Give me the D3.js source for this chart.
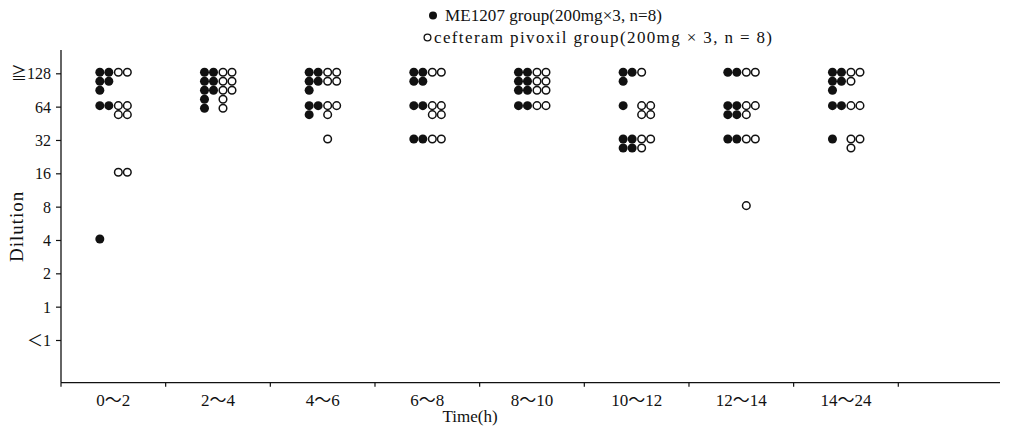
<!DOCTYPE html>
<html>
<head>
<meta charset="utf-8">
<script src="https://cdn.jsdelivr.net/npm/d3@7"></script>
<style>
  html, body { margin: 0; padding: 0; background: #fff; }
  svg { display: block; }
  text { font-family: "Liberation Serif", "Noto Sans CJK JP", serif; fill: #111; }
</style>
</head>
<body>
<svg id="chart" width="1011" height="431"></svg>
<script>
// Sampling periods (h)
const periods = ["0～2", "2～4", "4～6", "6～8", "8～10", "10～12", "12～14", "14～24"];

// Dilution tick labels, lowest to highest
const dilutionLabels = ["＜1", "1", "2", "4", "8", "16", "32", "64", "≧128"];

// Serum bactericidal dilution per subject (n = 8), one list per period
const me1207 = [
  [128, 128, 128, 128, 128, 64, 64, 4],
  [128, 128, 128, 128, 128, 128, 128, 128],
  [128, 128, 128, 128, 128, 64, 64, 64],
  [128, 128, 128, 128, 64, 64, 32, 32],
  [128, 128, 128, 128, 128, 128, 64, 64],
  [128, 128, 128, 64, 32, 32, 32, 32],
  [128, 128, 64, 64, 64, 64, 32, 32],
  [128, 128, 128, 128, 128, 64, 64, 32]
];

const cefteram = [
  [128, 128, 64, 64, 64, 64, 16, 16],
  [128, 128, 128, 128, 128, 128, 128, 128],
  [128, 128, 128, 128, 64, 64, 64, 32],
  [128, 128, 64, 64, 64, 64, 32, 32],
  [128, 128, 128, 128, 128, 128, 64, 64],
  [128, 64, 64, 64, 64, 32, 32, 32],
  [128, 128, 64, 64, 64, 32, 32, 8],
  [128, 128, 128, 64, 64, 32, 32, 32]
];

const legendLabels = [
  "ME1207 group(200mg×3, n=8)",
  "cefteram pivoxil group(200mg × 3, n = 8)"
];
const xTitle = "Time(h)";
const yTitle = "Dilution";

const svg = d3.select("#chart");
const ink = "#111";

const x = d3.scaleBand().domain(periods).range([61, 898.3]).paddingInner(0).paddingOuter(0);
const y = d3.scalePoint().domain(dilutionLabels).range([340, 73.3]);
const labelOf = v => (v >= 128 ? "≧128" : v < 1 ? "＜1" : String(v));

const axisY0 = 382.7, axisTop = 50, axisRight = 1000;

// Axis lines
svg.append("line")
  .attr("x1", x.range()[0]).attr("x2", axisRight)
  .attr("y1", axisY0).attr("y2", axisY0)
  .attr("stroke", ink).attr("stroke-width", 1.3);
svg.append("line")
  .attr("x1", x.range()[0]).attr("x2", x.range()[0])
  .attr("y1", axisTop).attr("y2", axisY0)
  .attr("stroke", ink).attr("stroke-width", 1.3);

// X axis: ticks at period boundaries, labels centred in each period
const boundaries = periods.map(p => x(p)).concat([x(periods[periods.length - 1]) + x.bandwidth()]);
svg.append("g").selectAll("line").data(boundaries).join("line")
  .attr("x1", d => d).attr("x2", d => d)
  .attr("y1", axisY0).attr("y2", axisY0 + 4)
  .attr("stroke", ink).attr("stroke-width", 1.2);

const xAxis = d3.axisBottom(x).tickSize(0).tickPadding(0);
const gx = svg.append("g").attr("transform", `translate(0,${axisY0})`).call(xAxis);
gx.select(".domain").remove();
gx.selectAll("text")
  .attr("y", 23).attr("dy", 0)
  .style("font-family", "'Liberation Serif', 'Noto Sans CJK JP', serif")
  .style("font-size", "17px").attr("fill", ink);

svg.append("text")
  .attr("x", 470).attr("y", 422)
  .attr("text-anchor", "middle")
  .style("font-size", "17px")
  .text(xTitle);

// Y axis
const yAxis = d3.axisLeft(y).tickSize(5).tickPadding(5);
const gy = svg.append("g").attr("transform", `translate(${x.range()[0]},0)`).call(yAxis);
gy.select(".domain").remove();
gy.selectAll(".tick line").attr("stroke", ink).attr("stroke-width", 1.2);
gy.selectAll("text")
  .attr("dy", "0.35em")
  .style("font-family", "'Liberation Serif', 'Noto Sans CJK JP', serif")
  .style("font-size", "16px").attr("fill", ink);

// Y title, bottom end fixed just above the "2" tick
svg.append("text")
  .attr("transform", `translate(23,262) rotate(-90)`)
  .attr("text-anchor", "start")
  .style("font-size", "19px")
  .style("letter-spacing", "1px")
  .text(yTitle);

// Dot layout: up to three rows of two, further dots continue down the first column
const colStep = 9, rowStep = 9, r = 4.5;
function place(values, period, baseOffset) {
  const cx0 = x(period) + x.bandwidth() / 2 + baseOffset;
  const groups = d3.groups(values, labelOf);
  const pts = [];
  groups.forEach(([lab, vals]) => {
    vals.forEach((v, i) => {
      let col, row;
      if (i < 6) { col = i % 2; row = Math.floor(i / 2); }
      else { col = 0; row = 3 + (i - 6); }
      pts.push({ cx: cx0 + col * colStep, cy: y(lab) - 1 + row * rowStep });
    });
  });
  return pts;
}

const filledPts = periods.flatMap((p, i) => place(me1207[i], p, -13.5));
const openPts = periods.flatMap((p, i) => place(cefteram[i], p, 5));

svg.append("g").selectAll("circle").data(filledPts).join("circle")
  .attr("cx", d => d.cx).attr("cy", d => d.cy).attr("r", r)
  .attr("fill", ink);

svg.append("g").selectAll("circle").data(openPts).join("circle")
  .attr("cx", d => d.cx).attr("cy", d => d.cy).attr("r", r - 0.7)
  .attr("fill", "#fff").attr("stroke", ink).attr("stroke-width", 1.5);

// Legend
const lg = svg.append("g");
lg.append("circle").attr("cx", 433).attr("cy", 15.5).attr("r", 4).attr("fill", ink);
lg.append("text").attr("x", 445).attr("y", 20.5).style("font-size", "17px")
  .attr("textLength", 217).attr("lengthAdjust", "spacing")
  .text(legendLabels[0]);
lg.append("circle").attr("cx", 427.5).attr("cy", 37.5).attr("r", 3.4)
  .attr("fill", "#fff").attr("stroke", ink).attr("stroke-width", 1.3);
lg.append("text").attr("x", 434).attr("y", 42.7).style("font-size", "17px")
  .attr("textLength", 338).attr("lengthAdjust", "spacing")
  .text(legendLabels[1]);
</script>
</body>
</html>
